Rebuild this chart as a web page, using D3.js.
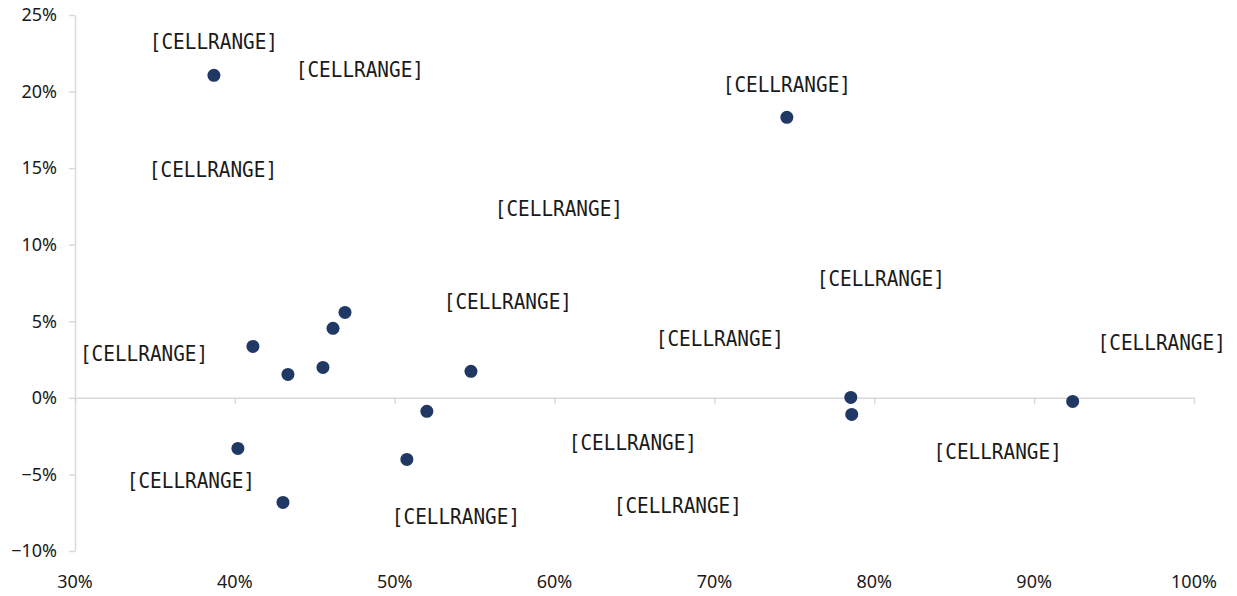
<!DOCTYPE html>
<html>
<head>
<meta charset="utf-8">
<script src="https://cdn.jsdelivr.net/npm/d3@7"></script>
<style>
  html, body { margin: 0; padding: 0; background: #ffffff; }
  svg { display: block; }
  .pt-label { font-family: "DejaVu Sans Mono", monospace; font-size: 22px; fill: #1a1a1a; }
</style>
</head>
<body>
<svg id="chart" width="1237" height="596"></svg>
<script>
// Scatter values (share on x, change on y)
const xValues = [0.3869, 0.7453, 0.4113, 0.4332, 0.4551, 0.4614, 0.4689, 0.5477, 0.5201, 0.5076, 0.4019, 0.4301, 0.7853, 0.7859, 0.9241];
const yValues = [0.2106, 0.1832, 0.0336, 0.0153, 0.0199, 0.0454, 0.0558, 0.0173, -0.0088, -0.0402, -0.0330, -0.0683, 0.0003, -0.0108, -0.0023];

// Data-label anchors, expressed in the same units as the axes
const labelX = [0.3869, 0.4782, 0.7453, 0.3863, 0.6027, 0.8041, 0.5708, 0.7034, 0.9798, 0.3432, 0.6490, 0.8772, 0.3725, 0.5383, 0.6771];
const labelY = [0.2329, 0.2146, 0.2048, 0.1492, 0.1237, 0.0781, 0.0630, 0.0389, 0.0363, 0.0291, -0.0291, -0.0349, -0.0539, -0.0774, -0.0702];
const labelText = "[CELLRANGE]";

// Axis ticks
const xTicks = [0.3, 0.4, 0.5, 0.6, 0.7, 0.8, 0.9, 1.0];
const yTicks = [-0.10, -0.05, 0, 0.05, 0.10, 0.15, 0.20, 0.25];

const svg = d3.select("#chart");
const margin = { left: 75, right: 43, top: 15, bottom: 45 };
const W = 1237, H = 596;

const x = d3.scaleLinear().domain([0.3, 1.0]).range([margin.left, W - margin.right]);
const y = d3.scaleLinear().domain([-0.10, 0.25]).range([H - margin.bottom, margin.top]);
const pct = d3.format(".0%");
const axisColor = "#d9d9d9";
const tickFont = "'Noto Sans', 'Open Sans', sans-serif";

// Horizontal axis drawn along y = 0
const gx = svg.append("g")
  .attr("transform", `translate(0,${y(0)})`)
  .call(d3.axisBottom(x).tickValues(xTicks).tickSize(6).tickSizeOuter(0).tickFormat(""));
gx.select(".domain").attr("stroke", axisColor).attr("stroke-width", 1.5);
gx.selectAll(".tick line").attr("stroke", axisColor).attr("stroke-width", 1.5);

// Horizontal tick labels sit along the bottom of the plot
svg.append("g").selectAll("text")
  .data(xTicks)
  .join("text")
  .attr("x", d => x(d))
  .attr("y", H - 8)
  .attr("text-anchor", "middle")
  .style("font-family", tickFont)
  .style("font-size", "18px")
  .style("fill", "#1a1a1a")
  .text(d => pct(d));

// Vertical axis
const gy = svg.append("g")
  .attr("transform", `translate(${margin.left},0)`)
  .call(d3.axisLeft(y).tickValues(yTicks).tickSize(6).tickSizeOuter(0).tickPadding(12).tickFormat(pct));
gy.select(".domain").attr("stroke", axisColor).attr("stroke-width", 1.5);
gy.selectAll(".tick line").attr("stroke", axisColor).attr("stroke-width", 1.5);
gy.selectAll(".tick text")
  .style("font-family", tickFont)
  .style("font-size", "18px")
  .style("fill", "#1a1a1a");

// Points
svg.append("g").selectAll("circle")
  .data(xValues.map((v, i) => ({ x: v, y: yValues[i] })))
  .join("circle")
  .attr("cx", d => x(d.x))
  .attr("cy", d => y(d.y))
  .attr("r", 6.5)
  .attr("fill", "#203864");

// Data labels, set in a narrowed monospace face
svg.append("g").selectAll("text")
  .data(labelX.map((v, i) => ({ x: v, y: labelY[i] })))
  .join("text")
  .attr("class", "pt-label")
  .attr("transform", d => `translate(${x(d.x)},${y(d.y)}) scale(0.88,1)`)
  .attr("dy", "0.36em")
  .attr("text-anchor", "middle")
  .text(labelText);
</script>
</body>
</html>
